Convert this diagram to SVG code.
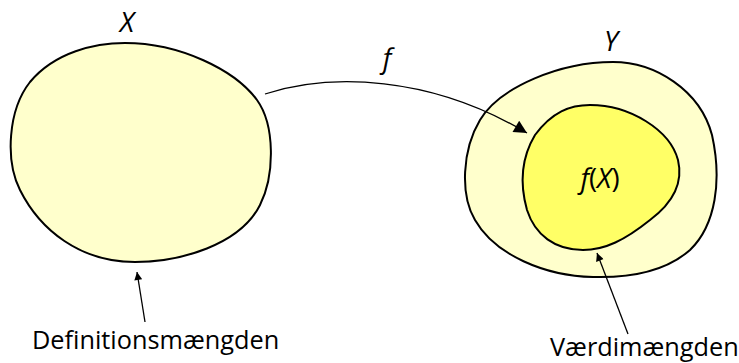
<svg xmlns="http://www.w3.org/2000/svg" width="739" height="363" viewBox="0 0 739 363">
  <style>
    .blob { stroke: #000; stroke-width: 2; }
    .light { fill: #FFFFCC; }
    .bright { fill: #FFFF66; }
    .lbl { font-family: "Open Sans", "Liberation Sans", sans-serif; font-size: 25.3px; fill: #000; }
    .math { font-family: "Open Sans", "Liberation Sans", sans-serif; font-style: italic; font-size: 27.5px; fill: #000; }
    .up { font-style: normal; }
    .conn { fill: none; stroke: #000; stroke-width: 1.3; }
  </style>
  <defs>
    <marker id="bigArrow" viewBox="0 0 10 10" refX="10" refY="5" markerWidth="17" markerHeight="13" markerUnits="userSpaceOnUse" orient="auto">
      <path d="M0,0 L10,5 L0,10 Z" fill="#000"/>
    </marker>
    <marker id="smallArrow" viewBox="0 0 10 10" refX="10" refY="5" markerWidth="10" markerHeight="8" markerUnits="userSpaceOnUse" orient="auto">
      <path d="M0,0 L10,5 L0,10 Z" fill="#000"/>
    </marker>
  </defs>

  <g id="setX">
    <path class="blob light" d="M 125,43 C 180,43 235,70 257,100 C 275,125 275,175 260,205 C 240,245 180,262 135,262 C 80,262 40,230 20,190 C 5,160 8,110 30,82 C 55,52 95,43 125,43 Z"/>
    <text class="math" x="127" y="32" text-anchor="middle">X</text>
  </g>

  <g id="setY">
    <path class="blob light" d="M 613,62 C 655,62 700,90 712,135 C 722,180 716,225 690,250 C 665,272 630,278 593,277 C 545,276 495,255 475,220 C 460,195 462,150 480,120 C 500,87 560,62 613,62 Z"/>
    <text class="math" x="611" y="51" text-anchor="middle">Y</text>
  </g>

  <g id="image">
    <path class="blob bright" d="M 590,105 C 630,105 670,130 678,160 C 684,185 670,205 650,220 C 625,240 605,250 583,250 C 555,250 535,235 527,210 C 520,185 520,160 535,135 C 552,112 570,105 590,105 Z"/>
    <text class="math" x="600" y="188" text-anchor="middle">f<tspan class="up">(</tspan>X<tspan class="up">)</tspan></text>
  </g>

  <g id="labelDef">
    <text class="lbl" x="32" y="349">Definitionsmængden</text>
  </g>

  <g id="labelVal">
    <text class="lbl" x="550" y="356">Værdimængden</text>
  </g>

  <g id="connectors">
    <path class="conn" d="M 265,94 C 330,73 430,75 527,133" marker-end="url(#bigArrow)"/>
    <text class="math" x="387" y="68" text-anchor="middle">f</text>
    <path class="conn" d="M 145,322 L 137,272" marker-end="url(#smallArrow)"/>
    <path class="conn" d="M 628,334 L 597,253" marker-end="url(#smallArrow)"/>
  </g>
</svg>
